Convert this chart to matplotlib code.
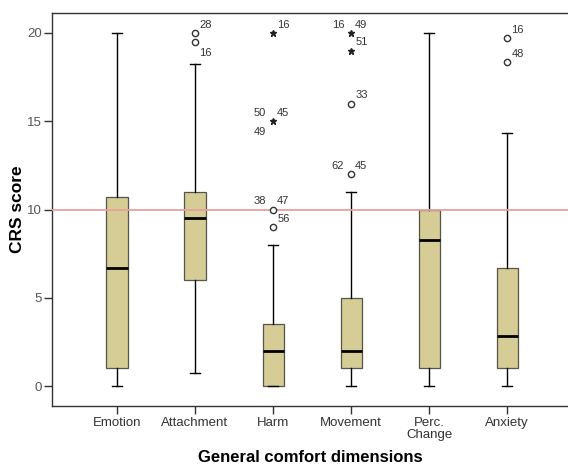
import matplotlib
matplotlib.use("Agg")
import matplotlib.pyplot as plt

plt.rcParams['font.family'] = ['Liberation Sans', 'DejaVu Sans']

categories = ["Emotion", "Attachment", "Harm", "Movement", "Perc.\nChange", "Anxiety"]
whislo = [0, 0.75, 0, 0, 0, 0]
q1 = [1, 6.0, 0, 1, 1, 1]
med = [6.7, 9.5, 2.0, 2.0, 8.27, 2.83]
q3 = [10.7, 11.0, 3.5, 5.0, 10.0, 6.7]
whishi = [20, 18.25, 8.0, 11.0, 20, 14.33]

# outliers: (category index, value, labels)
outlier_cat = [1, 1, 2, 2, 3, 3, 5, 5]
outlier_val = [20, 19.5, 10, 9, 16, 12, 19.7, 18.35]
outlier_lab = [["28"], ["16"], ["38", "47"], ["56"], ["33"], ["62", "45"], ["16"], ["48"]]
# extremes (stars)
extreme_cat = [2, 2, 3, 3]
extreme_val = [20, 15, 20, 19]
extreme_lab = [["16"], ["50", "45", "49"], ["16", "49"], ["51"]]

ref_value = 10

# label placement offsets in points (style only)
out_offsets = [[(3, 6)], [(3, -8)], [(-14, 6), (3, 6)], [(3, 6)], [(3, 6)], [(-14, 6), (3, 6)], [(3, 6)], [(3, 6)]]
ext_offsets = [[(3, 6)], [(-14, 6), (3, 6), (-14, -8)], [(-14, 6), (3, 6)], [(3, 6)]]

fig = plt.figure(figsize=(5.68, 4.66), dpi=100)
ax = fig.add_axes([52/568, 60/466, 516/568, 393/466])

positions = list(range(1, len(categories) + 1))
stats = []
for i in range(len(categories)):
    stats.append(dict(med=med[i], q1=q1[i], q3=q3[i], whislo=whislo[i], whishi=whishi[i], fliers=[]))

ax.bxp(stats, positions=positions, widths=0.27, patch_artist=True, showfliers=False,
       boxprops=dict(facecolor='#d5cd95', edgecolor='#55554a', linewidth=0.9),
       medianprops=dict(color='black', linewidth=2),
       whiskerprops=dict(color='black', linewidth=1),
       capprops=dict(color='black', linewidth=1),
       capwidths=0.12)

ax.axhline(ref_value, color='#e8a0a0', linewidth=1.3, zorder=5)

ax.plot([positions[c] for c in outlier_cat], outlier_val, linestyle='none', marker='o',
        markersize=4.5, markerfacecolor='white', markeredgecolor='#333333', markeredgewidth=1, zorder=6)
ax.plot([positions[c] for c in extreme_cat], extreme_val, linestyle='none', marker='*',
        markersize=5, color='#222222', zorder=6)

for c, v, labs, offs in zip(outlier_cat, outlier_val, outlier_lab, out_offsets):
    for lab, off in zip(labs, offs):
        ax.annotate(lab, (positions[c], v), xytext=off, textcoords='offset points',
                    fontsize=8, color='#333333', va='center', ha='left')
for c, v, labs, offs in zip(extreme_cat, extreme_val, extreme_lab, ext_offsets):
    for lab, off in zip(labs, offs):
        ax.annotate(lab, (positions[c], v), xytext=off, textcoords='offset points',
                    fontsize=8, color='#333333', va='center', ha='left')

ax.set_xlim(0.167, 6.78)
ax.set_ylim(-1.13, 21.13)
ax.set_xticks(positions)
ax.set_xticklabels(categories, fontsize=9.5, color='#333333', linespacing=0.95)
ax.set_yticks([0, 5, 10, 15, 20])
ax.set_yticklabels(["0", "5", "10", "15", "20"], fontsize=9.5, color='#555555')
ax.tick_params(direction='out', length=5.5, color='#333333', width=1, pad=1.5)
ax.tick_params(axis='x', pad=2.5)
for s in ['left', 'bottom', 'top']:
    ax.spines[s].set_color('#333333')
    ax.spines[s].set_linewidth(1)
ax.spines['right'].set_visible(False)

ax.set_ylabel("CRS score", fontsize=12.5, fontweight='bold', labelpad=2)
ax.set_xlabel("General comfort dimensions", fontsize=12, fontweight='bold', labelpad=7)

fig.savefig("out.png", dpi=100)
